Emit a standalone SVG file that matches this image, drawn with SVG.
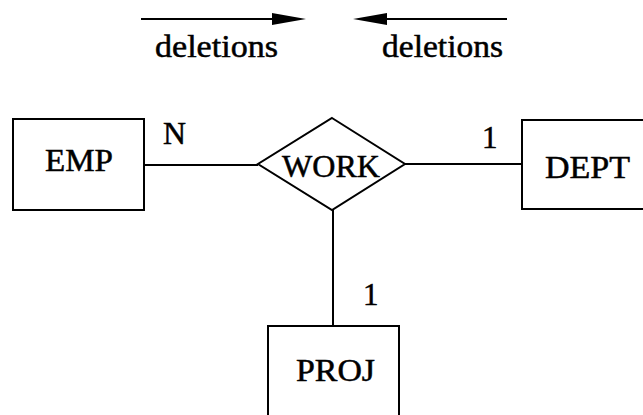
<svg xmlns="http://www.w3.org/2000/svg" width="643" height="415" viewBox="0 0 643 415">
<style>
.s{fill:none;stroke:#000;stroke-width:2}
text{font-family:'Times New Roman','Liberation Serif',serif;font-size:31px;fill:#000;stroke:#000;stroke-width:0.5}
</style>
<rect width="643" height="415" fill="#fff"/>
<g id="legend">
<line class="s" x1="141" y1="19" x2="276" y2="19"/>
<polygon points="272,13 306,19 272,25" fill="#000"/>
<line class="s" x1="384" y1="19" x2="507" y2="19"/>
<polygon points="387,13 353,19 387,25" fill="#000"/>
<text x="155" y="57" textLength="123" lengthAdjust="spacingAndGlyphs">deletions</text>
<text x="382" y="57" textLength="121" lengthAdjust="spacingAndGlyphs">deletions</text>
</g>
<g id="connectors">
<line class="s" x1="144" y1="165" x2="258" y2="165"/>
<line class="s" x1="405" y1="164" x2="522" y2="164"/>
<line class="s" x1="333" y1="210" x2="333" y2="326"/>
<text x="163" y="144" textLength="23" lengthAdjust="spacingAndGlyphs">N</text>
<text x="482" y="148">1</text>
<text x="363" y="305">1</text>
</g>
<g id="EMP">
<rect class="s" x="13" y="119" width="131" height="91"/>
<text x="45" y="171" textLength="68" lengthAdjust="spacingAndGlyphs">EMP</text>
</g>
<g id="WORK">
<polygon class="s" points="332,118 405,164 332,210 258,164"/>
<text x="282" y="177" textLength="98" lengthAdjust="spacingAndGlyphs">WORK</text>
</g>
<g id="DEPT">
<rect class="s" x="522" y="120" width="140" height="89"/>
<text x="545" y="178" textLength="85" lengthAdjust="spacingAndGlyphs">DEPT</text>
</g>
<g id="PROJ">
<rect class="s" x="268" y="326" width="131" height="110"/>
<text x="296" y="381" textLength="79" lengthAdjust="spacingAndGlyphs">PROJ</text>
</g>
</svg>
